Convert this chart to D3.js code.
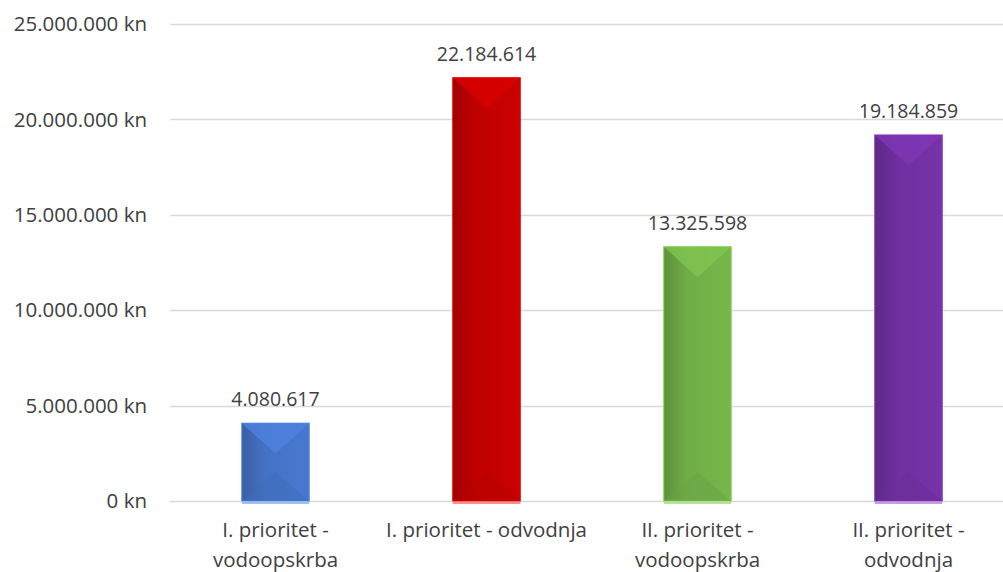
<!DOCTYPE html>
<html>
<head>
<meta charset="utf-8">
<script src="https://cdn.jsdelivr.net/npm/d3@7"></script>
<style>
  body { margin: 0; background: #fff; }
  text { font-family: "Open Sans", sans-serif; fill: #404040; }
</style>
</head>
<body>
<script>
var width = 1003,
    height = 572;

// chart data
var categories = [["I. prioritet -", "vodoopskrba"], ["I. prioritet - odvodnja"], ["II. prioritet -", "vodoopskrba"], ["II. prioritet -", "odvodnja"]];
var values = [4080617, 22184614, 13325598, 19184859];
var tickValues = [0, 5000000, 10000000, 15000000, 20000000, 25000000];
var colors = ["#4472c4", "#c00000", "#70ad47", "#7030a0"];
var lightColors = ["#9dc3f5", "#ff8f8f", "#b6e58f", "#c89be8"];

var margin = {left: 170, right: -11, top: 24, bottom: 71};

var x = d3.scaleBand()
    .domain(d3.range(values.length))
    .range([margin.left, width - margin.right])
    .paddingInner(0.68)
    .paddingOuter(0.34);

var y = d3.scaleLinear()
    .domain([0, 25000000])
    .range([height - margin.bottom, margin.top]);

var fmt = function(v) {
  return String(v).replace(/\B(?=(\d{3})+(?!\d))/g, ".");
};

var svg = d3.select("body").append("svg")
    .attr("width", width)
    .attr("height", height);

var defs = svg.append("defs");

colors.forEach(function(c, i) {
  var g = defs.append("linearGradient").attr("id", "side" + i)
      .attr("x1", 0).attr("x2", 1).attr("y1", 0).attr("y2", 0);
  g.append("stop").attr("offset", 0).attr("stop-color", d3.color(c).darker(0.5));
  g.append("stop").attr("offset", 0.35).attr("stop-color", c);
  g.append("stop").attr("offset", 1).attr("stop-color", d3.color(c).brighter(0.15));
});

// gridlines
svg.append("g").attr("class", "grid")
  .selectAll("line").data(tickValues)
  .enter().append("line")
    .attr("x1", margin.left)
    .attr("x2", width)
    .attr("y1", d => Math.round(y(d)) + 0.5)
    .attr("y2", d => Math.round(y(d)) + 0.5)
    .attr("stroke", "#d9d9d9")
    .attr("stroke-width", 1.5);

// y axis labels
svg.append("g").attr("class", "ylabels")
  .selectAll("text").data(tickValues)
  .enter().append("text")
    .attr("x", 147)
    .attr("y", d => y(d))
    .attr("dy", "0.35em")
    .attr("text-anchor", "end")
    .style("font-size", "20.5px")
    .text(d => fmt(d) + " kn");

var bars = svg.append("g").attr("class", "bars")
  .selectAll("g").data(values)
  .enter().append("g");

bars.append("rect")
    .attr("x", (d, i) => x(i))
    .attr("y", d => y(d))
    .attr("width", x.bandwidth())
    .attr("height", d => y(0) - y(d))
    .attr("fill", (d, i) => "url(#side" + i + ")")
    .attr("stroke", (d, i) => d3.color(colors[i]).brighter(0.6))
    .attr("stroke-width", 1);

// top bevel (lighter triangle)
bars.append("path")
    .attr("d", function(d, i) {
      var x0 = x(i), x1 = x(i) + x.bandwidth(), t = y(d), h = Math.min(x.bandwidth() / 2, y(0) - y(d));
      return "M" + x0 + "," + t + "L" + x1 + "," + t + "L" + (x0 + x.bandwidth() / 2) + "," + (t + h * 0.9) + "Z";
    })
    .attr("fill", (d, i) => d3.color(colors[i]).brighter(0.35))
    .attr("opacity", 0.8);

// bottom bevel
bars.append("path")
    .attr("d", function(d, i) {
      var x0 = x(i), x1 = x(i) + x.bandwidth(), b = y(0), h = Math.min(x.bandwidth() / 2, y(0) - y(d));
      return "M" + x0 + "," + b + "L" + x1 + "," + b + "L" + (x0 + x.bandwidth() / 2) + "," + (b - h * 0.85) + "Z";
    })
    .attr("fill", (d, i) => d3.color(colors[i]).darker(0.15))
    .attr("opacity", 0.5);

// reflection line under the bar
bars.append("line")
    .attr("x1", (d, i) => x(i))
    .attr("x2", (d, i) => x(i) + x.bandwidth())
    .attr("y1", y(0) + 2)
    .attr("y2", y(0) + 2)
    .attr("stroke", (d, i) => lightColors[i])
    .attr("stroke-width", 2);

// value labels
bars.append("text")
    .attr("x", (d, i) => x(i) + x.bandwidth() / 2)
    .attr("y", d => y(d) - 17)
    .attr("text-anchor", "middle")
    .style("font-size", "19.5px")
    .text(d => fmt(d));

// category labels
var cats = svg.append("g").attr("class", "xlabels")
  .selectAll("text").data(categories)
  .enter().append("text")
    .attr("x", (d, i) => x(i) + x.bandwidth() / 2)
    .attr("y", 537)
    .attr("text-anchor", "middle")
    .style("font-size", "20.5px");

cats.selectAll("tspan").data(d => d)
  .enter().append("tspan")
    .attr("x", function() { return d3.select(this.parentNode).attr("x"); })
    .attr("dy", (d, j) => j === 0 ? 0 : 30)
    .text(d => d);
</script>
</body>
</html>
